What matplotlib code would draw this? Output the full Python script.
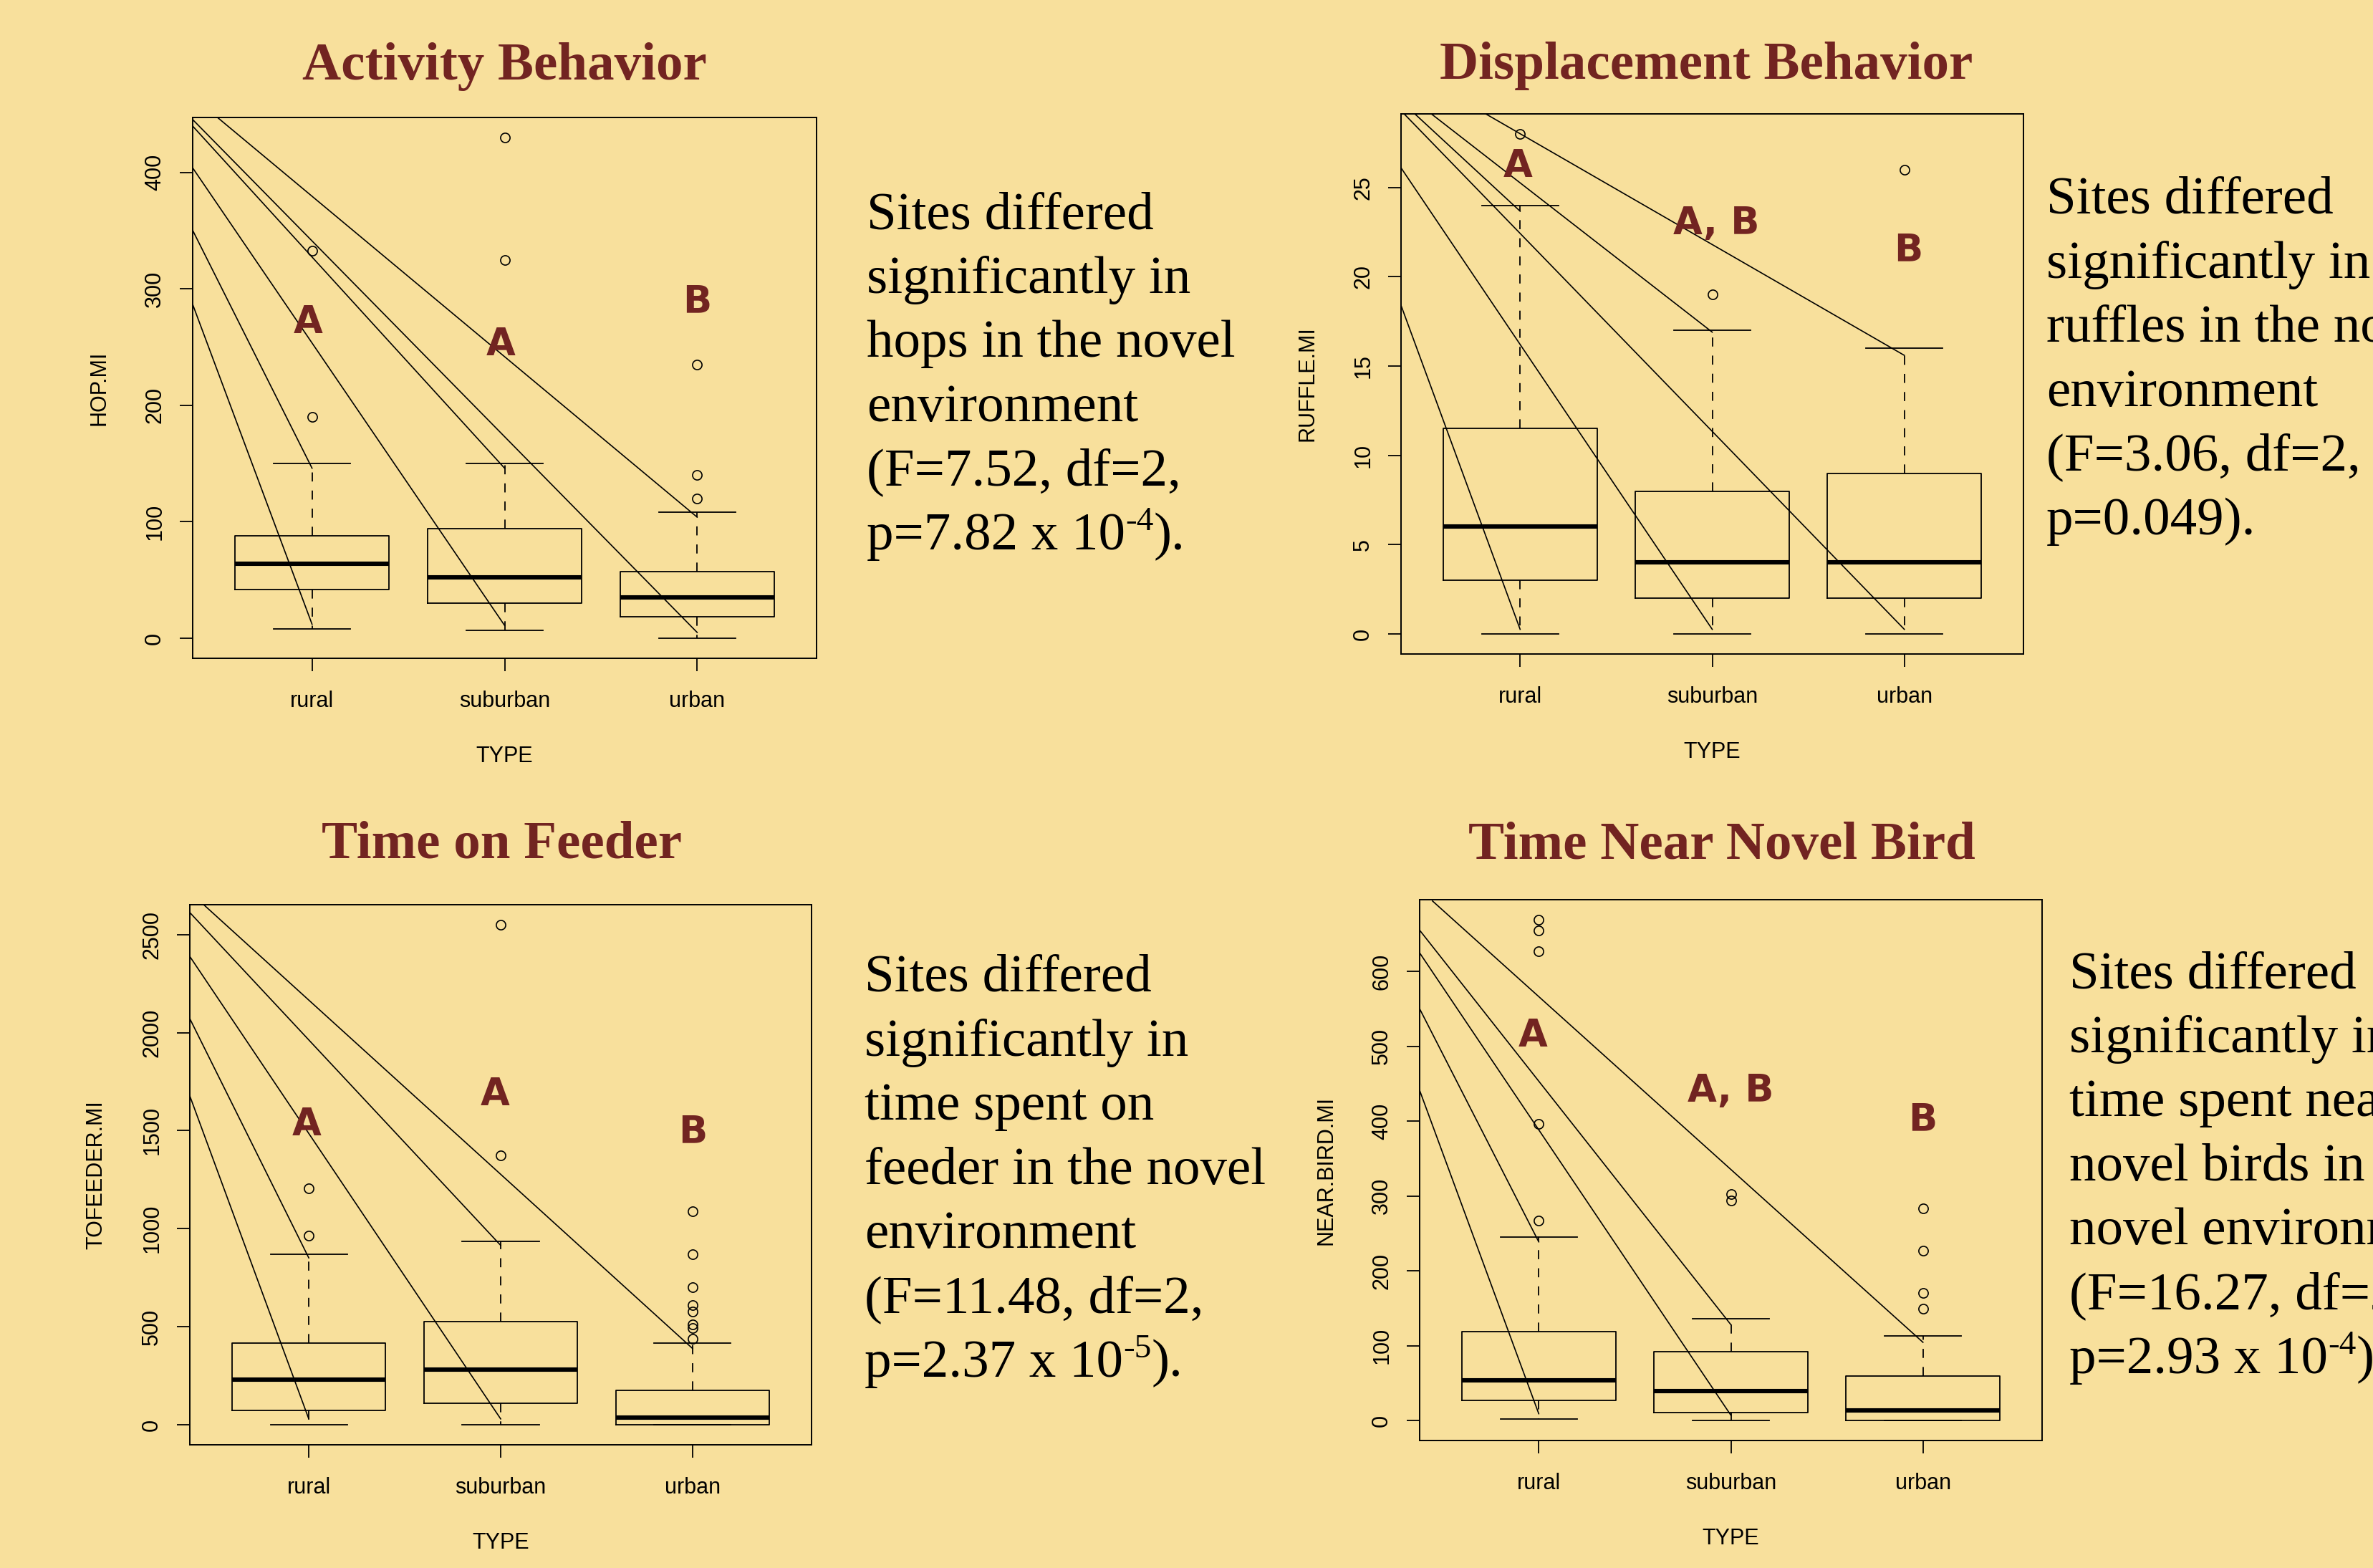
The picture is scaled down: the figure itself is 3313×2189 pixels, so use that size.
import matplotlib
matplotlib.use("Agg")
import matplotlib.pyplot as plt

W, H = 3313, 2189
BG = "#F8E09C"
RED = "#722421"

categories = ["rural", "suburban", "urban"]

# ---- Activity Behavior (HOP.MI)
hop_low = [8, 6.5, 0]
hop_q1 = [42, 30, 18.5]
hop_med = [64, 52, 35]
hop_q3 = [88, 94, 57]
hop_high = [150, 150, 108.5]
hop_out = [[190, 333], [325, 430], [120, 140, 235]]
hop_letters = ["A", "A", "B"]
hop_letter_x = [0.98, 1.98, 3.0]
hop_letter_y = [271, 252, 289]
hop_line_start = [(0.38, 286.7), (0.38, 350.3), (0.38, 403.9), (0.38, 439.8), (0.38, 445.4), (0.506, 447.6)]
hop_line_end = [(1, 12), (1, 146), (2, 11), (2, 146), (3, 5), (3, 104)]

# ---- Displacement Behavior (RUFFLE.MI)
ruf_low = [0, 0, 0]
ruf_q1 = [3, 2, 2]
ruf_med = [6, 4, 4]
ruf_q3 = [11.5, 8, 9]
ruf_high = [24, 17, 16]
ruf_out = [[28], [19], [26]]
ruf_letters = ["A", "A, B", "B"]
ruf_letter_x = [0.99, 2.02, 3.02]
ruf_letter_y = [26.2, 23.0, 21.5]
ruf_line_start = [(0.38, 18.4), (0.38, 26.1), (0.38, 29.3), (0.452, 29.12), (0.538, 29.12), (0.821, 29.12)]
ruf_line_end = [(1, 0.26), (2, 0.26), (3, 0.26), (1, 23.67), (2, 16.9), (3, 15.6)]

# ---- Time on Feeder (TOFEEDER.MI)
fee_low = [0, 0, 0]
fee_q1 = [74, 109, 0]
fee_med = [229, 280, 35]
fee_q3 = [417, 526, 175]
fee_high = [869, 937, 416]
fee_out = [[965, 1207], [1375, 2550], [439, 492, 512, 578, 610, 702, 870, 1087]]
fee_letters = ["A", "A", "B"]
fee_letter_x = [0.99, 1.97, 3.0]
fee_letter_y = [1529, 1684, 1494]
fee_line_start = [(0.38, 1677), (0.38, 2071), (0.38, 2388), (0.38, 2612), (0.449, 2655)]
fee_line_end = [(1, 30), (1, 851), (2, 30), (2, 915), (3, 389)]

# ---- Time Near Novel Bird (NEAR.BIRD.MI)
bird_low = [2, 0, 0]
bird_q1 = [27, 11, 0]
bird_med = [54, 39, 13]
bird_q3 = [119, 92, 59.5]
bird_high = [245, 136, 113]
bird_out = [[267, 396, 627, 655, 669], [294, 302], [149, 170, 227, 283]]
bird_letters = ["A", "A, B", "B"]
bird_letter_x = [0.97, 2.0, 3.0]
bird_letter_y = [514, 440, 402]
bird_line_start = [(0.38, 441), (0.38, 550), (0.38, 624.7), (0.38, 655), (0.447, 694)]
bird_line_end = [(1, 9), (1, 238.6), (2, 7), (2, 128), (3, 104.4)]

# text lines; a line given as a tuple is (base, superscript, tail)
panels = [
    dict(title="Activity Behavior", ylabel="HOP.MI", yticks=[0, 100, 200, 300, 400],
         low=hop_low, q1=hop_q1, med=hop_med, q3=hop_q3, high=hop_high, out=hop_out,
         letters=hop_letters, lx=hop_letter_x, ly=hop_letter_y,
         ls=hop_line_start, le=hop_line_end,
         box=(269, 164, 1140, 919), title_xy=(704, 111),
         text_xy=(1210, 319),
         text=["Sites differed", "significantly in", "hops in the novel", "environment",
               "(F=7.52, df=2,", ("p=7.82 x 10", "-4", ").")]),
    dict(title="Displacement Behavior", ylabel="RUFFLE.MI", yticks=[0, 5, 10, 15, 20, 25],
         low=ruf_low, q1=ruf_q1, med=ruf_med, q3=ruf_q3, high=ruf_high, out=ruf_out,
         letters=ruf_letters, lx=ruf_letter_x, ly=ruf_letter_y,
         ls=ruf_line_start, le=ruf_line_end,
         box=(1956, 159, 2825, 913), title_xy=(2382, 110),
         text_xy=(2857, 298),
         text=["Sites differed", "significantly in", "ruffles in the novel", "environment",
               "(F=3.06, df=2,", "p=0.049)."]),
    dict(title="Time on Feeder", ylabel="TOFEEDER.MI", yticks=[0, 500, 1000, 1500, 2000, 2500],
         low=fee_low, q1=fee_q1, med=fee_med, q3=fee_q3, high=fee_high, out=fee_out,
         letters=fee_letters, lx=fee_letter_x, ly=fee_letter_y,
         ls=fee_line_start, le=fee_line_end,
         box=(265, 1263, 1133, 2017), title_xy=(700, 1197),
         text_xy=(1207, 1384),
         text=["Sites differed", "significantly in", "time spent on", "feeder in the novel",
               "environment", "(F=11.48, df=2,", ("p=2.37 x 10", "-5", ").")]),
    dict(title="Time Near Novel Bird", ylabel="NEAR.BIRD.MI", yticks=[0, 100, 200, 300, 400, 500, 600],
         low=bird_low, q1=bird_q1, med=bird_med, q3=bird_q3, high=bird_high, out=bird_out,
         letters=bird_letters, lx=bird_letter_x, ly=bird_letter_y,
         ls=bird_line_start, le=bird_line_end,
         box=(1982, 1256, 2851, 2011), title_xy=(2404, 1199),
         text_xy=(2889, 1379),
         text=["Sites differed", "significantly in", "time spent near", "novel birds in the",
               "novel environment", "(F=16.27, df=2,", ("p=2.93 x 10", "-4", ").")]),
]

plt.rcParams["font.family"] = ["Liberation Sans", "DejaVu Sans"]

fig = plt.figure(figsize=(W / 100, H / 100), dpi=100, facecolor=BG)
renderer = fig.canvas.get_renderer()

LW = 1.3
LINE_GAP = 89.6
TXT = dict(family="Liberation Serif", color="black", va="baseline", ha="left")


def text_width_px(t):
    return t.get_window_extent(renderer=renderer).width


for p in panels:
    x0, y0, x1, y1 = p["box"]
    ax = fig.add_axes([x0 / W, 1 - y1 / H, (x1 - x0) / W, (y1 - y0) / H])
    ax.set_facecolor(BG)

    stats = []
    for i, cat in enumerate(categories):
        stats.append(dict(label=cat, whislo=p["low"][i], q1=p["q1"][i], med=p["med"][i],
                          q3=p["q3"][i], whishi=p["high"][i], fliers=p["out"][i]))
    ax.bxp(stats, positions=[1, 2, 3], widths=0.8, capwidths=0.4, showfliers=True,
           boxprops=dict(color="black", lw=LW),
           medianprops=dict(color="black", lw=4.4, solid_capstyle="butt"),
           whiskerprops=dict(color="black", lw=LW, linestyle=(0, (7, 7))),
           capprops=dict(color="black", lw=LW),
           flierprops=dict(marker="o", markerfacecolor="none", markeredgecolor="black",
                           markersize=9.5, markeredgewidth=1.2, linestyle="none"))

    for (sx, sy), (ex, ey) in zip(p["ls"], p["le"]):
        ax.plot([sx, ex], [sy, ey], color="black", lw=1.2)

    for lab, lx, ly in zip(p["letters"], p["lx"], p["ly"]):
        ax.text(lx, ly, lab, ha="center", va="center", fontsize=38, fontweight="bold",
                color=RED, family="DejaVu Sans")

    allvals = p["low"] + [v for o in p["out"] for v in o] + p["high"]
    lo, hi = min(allvals), max(allvals)
    pad = 0.04 * (hi - lo)
    ax.set_ylim(lo - pad, hi + pad)
    ax.set_xlim(0.38, 3.62)

    ax.set_xticks([1, 2, 3])
    ax.set_xticklabels(categories)
    ax.set_yticks(p["yticks"])
    ax.set_yticklabels([str(v) for v in p["yticks"]], rotation=90, ha="center", va="center")
    for t in ax.get_xticklabels():
        t.set_va("center")
    ax.tick_params(axis="both", length=13, width=LW, labelsize=22, direction="out")
    ax.tick_params(axis="y", pad=25)
    ax.tick_params(axis="x", pad=30)
    for s in ax.spines.values():
        s.set_linewidth(1.4)

    ax.set_xlabel("TYPE", fontsize=22, va="center")
    ax.set_ylabel(p["ylabel"], fontsize=22, va="center")
    ax.xaxis.set_label_coords(0.5, -137 / (y1 - y0))
    ax.yaxis.set_label_coords(-131 / (x1 - x0), 0.5)

    tx, ty = p["title_xy"]
    fig.text(tx / W, 1 - ty / H, p["title"], ha="center", va="baseline", fontsize=54,
             fontweight="bold", color=RED, family="Liberation Serif")

    px, py = p["text_xy"]
    for k, line in enumerate(p["text"]):
        yb = py + k * LINE_GAP
        if isinstance(line, tuple):
            base, sup, tail = line
            t1 = fig.text(px / W, 1 - yb / H, base, fontsize=54, **TXT)
            xs = px + text_width_px(t1)
            t2 = fig.text(xs / W, 1 - (yb - 27) / H, sup, fontsize=34, **TXT)
            xt = xs + text_width_px(t2)
            fig.text(xt / W, 1 - yb / H, tail, fontsize=54, **TXT)
        else:
            fig.text(px / W, 1 - yb / H, line, fontsize=54, **TXT)

fig.savefig("out.png", dpi=100, facecolor=BG)
